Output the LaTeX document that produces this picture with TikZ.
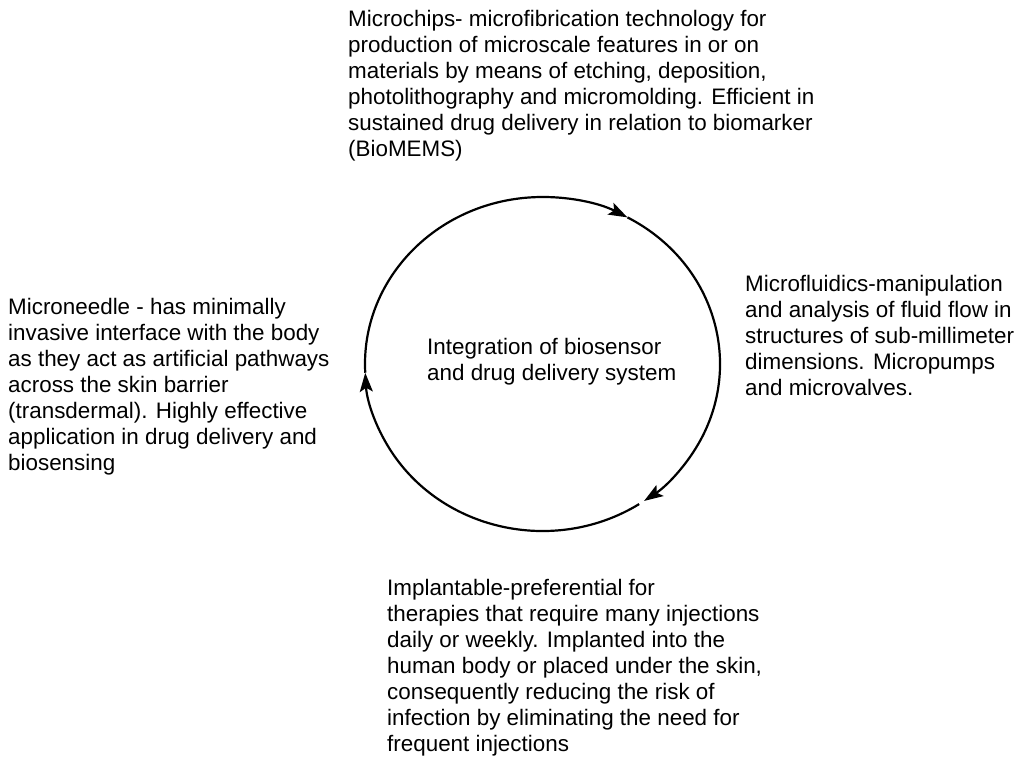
\documentclass[tikz,border=0pt]{standalone}
\usepackage{fontspec}
\setmainfont{Liberation Sans}
\usetikzlibrary{arrows.meta,calc}
\begin{document}
\begin{tikzpicture}[x=1pt,y=-1pt,
  txt/.style={anchor=base west,inner sep=0pt,align=left,font=\fontsize{22.4}{26}\selectfont},
  cyc/.style={line width=2.2pt,-{Stealth[length=19pt,width=13pt,inset=4pt]}}]
\useasboundingbox (0,0) rectangle (1024,758);
\coordinate (c) at (542.5,364);
\node[txt] (chips) at (348,156) {Microchips- microfibrication technology for\\production of microscale features in or on\\materials by means of etching, deposition,\\photolithography and micromolding. Efficient in\\sustained drug delivery in relation to biomarker\\(BioMEMS)};
\node[txt] (fluid) at (745,395) {Microfluidics-manipulation\\and analysis of fluid flow in\\structures of sub-millimeter\\dimensions. Micropumps\\and microvalves.};
\node[txt] (needle) at (8,470) {Microneedle - has minimally\\invasive interface with the body\\as they act as artificial pathways\\across the skin barrier\\(transdermal). Highly effective\\application in drug delivery and\\biosensing};
\node[txt] (impl) at (387,751) {Implantable-preferential for\\therapies that require many injections\\daily or weekly. Implanted into the\\human body or placed under the skin,\\consequently reducing the risk of\\infection by eliminating the need for\\frequent injections};
\node[txt] (center) at (427,380) {Integration of biosensor\\and drug delivery system};
\coordinate (pA) at ($(c)+(-183:177.5 and 167)$);
\coordinate (pB) at ($(c)+(-61.4:177.5 and 167)$);
\coordinate (pC) at ($(c)+(57:177.5 and 167)$);
\draw[cyc] (pA) arc[start angle=-183,end angle=-61.4,x radius=177.5,y radius=167];
\draw[cyc] (pB) arc[start angle=-61.4,end angle=55.1,x radius=177.5,y radius=167];
\draw[cyc] (pC) arc[start angle=57,end angle=177,x radius=177.5,y radius=167];
\end{tikzpicture}
\end{document}
